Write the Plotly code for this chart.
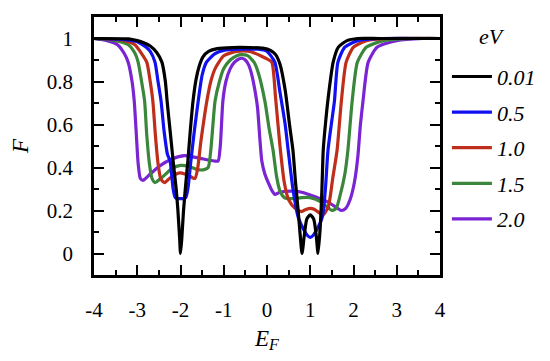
import plotly.graph_objects as go

# ---- data ----
black_x = [-4, -3.2, -3.0, -2.85, -2.7, -2.55, -2.43, -2.35, -2.31, -2.24, -2.17, -2.1, -2.06, -2.02, -2.0,
           -1.97, -1.93, -1.88, -1.83, -1.77, -1.71, -1.64, -1.57, -1.48, -1.35, -1.15, -0.8, -0.4, -0.1,
           0.08, 0.2, 0.3, 0.42, 0.52, 0.6, 0.66, 0.72, 0.77, 0.81, 0.86, 0.92, 1.0, 1.08, 1.14, 1.18, 1.23,
           1.27, 1.3, 1.36, 1.43, 1.53, 1.65, 1.85, 2.1, 2.6, 4]
black_y = [1.0, 0.998, 0.99, 0.98, 0.965, 0.935, 0.89, 0.8, 0.71, 0.57, 0.43, 0.3, 0.2, 0.07, 0.0,
           0.07, 0.2, 0.32, 0.43, 0.58, 0.71, 0.81, 0.87, 0.915, 0.94, 0.953, 0.958, 0.958, 0.955,
           0.945, 0.925, 0.88, 0.76, 0.6, 0.48, 0.33, 0.2, 0.08, 0.0, 0.08, 0.16, 0.18, 0.16, 0.08, 0.0, 0.12,
           0.3, 0.48, 0.62, 0.75, 0.89, 0.96, 0.99, 1.0, 1.0, 1.0]

blue_x = [-4, -3.3, -3.0, -2.8, -2.7, -2.59, -2.52, -2.45, -2.38, -2.3, -2.24, -2.17, -2.12, -2.0,
          -1.88, -1.83, -1.76, -1.68, -1.59, -1.5, -1.4, -1.2, -1.0, -0.6, -0.2, 0.0, 0.18, 0.3, 0.42,
          0.49, 0.6, 0.72, 0.85, 0.93, 1.0, 1.07, 1.15, 1.28, 1.35, 1.41, 1.5, 1.56, 1.64, 1.8, 2.1, 2.6, 4]
blue_y = [1.0, 0.995, 0.985, 0.96, 0.94, 0.89, 0.8, 0.71, 0.57, 0.46, 0.43, 0.3, 0.26, 0.255,
          0.26, 0.3, 0.43, 0.57, 0.71, 0.83, 0.89, 0.93, 0.945, 0.95, 0.95, 0.94, 0.89, 0.75, 0.6,
          0.48, 0.3, 0.17, 0.11, 0.085, 0.075, 0.085, 0.11, 0.17, 0.3, 0.48, 0.62, 0.71, 0.89, 0.96, 0.99, 1.0, 1.0]

red_x = [-4, -3.3, -3.05, -2.9, -2.78, -2.7, -2.64, -2.58, -2.52, -2.46, -2.41, -2.36, -2.25, -2.1, -2.0,
         -1.9, -1.78, -1.7, -1.66, -1.6, -1.53, -1.46, -1.39, -1.3, -1.2, -1.0, -0.7, -0.4, -0.15, 0.0,
         0.11, 0.2, 0.3, 0.4, 0.5, 0.65, 0.8, 0.9, 1.0, 1.1, 1.2, 1.3, 1.42, 1.52, 1.62, 1.72, 1.83, 2.0,
         2.3, 2.8, 4]
red_y = [1.0, 0.99, 0.97, 0.93, 0.89, 0.8, 0.71, 0.55, 0.42, 0.35, 0.335, 0.33, 0.35, 0.37, 0.375,
         0.37, 0.36, 0.35, 0.35, 0.4, 0.52, 0.62, 0.71, 0.8, 0.86, 0.92, 0.94, 0.94, 0.92, 0.905,
         0.89, 0.72, 0.5, 0.33, 0.25, 0.21, 0.195, 0.205, 0.21, 0.205, 0.19, 0.18, 0.22, 0.35, 0.48,
         0.71, 0.89, 0.96, 0.99, 1.0, 1.0]

green_x = [-4, -3.5, -3.2, -3.05, -2.98, -2.9, -2.83, -2.78, -2.72, -2.66, -2.59, -2.45, -2.2, -2.0,
           -1.8, -1.6, -1.45, -1.36, -1.3, -1.25, -1.2, -1.1, -1.0, -0.85, -0.7, -0.58, -0.45, -0.3,
           -0.2, -0.05, 0.05, 0.14, 0.22, 0.3, 0.4, 0.55, 0.8, 1.0, 1.25, 1.4, 1.5, 1.6, 1.69, 1.8,
           1.87, 1.97, 2.09, 2.3, 2.7, 3.3, 4]
green_y = [1.0, 0.99, 0.97, 0.93, 0.89, 0.8, 0.71, 0.55, 0.42, 0.35, 0.33, 0.35, 0.395, 0.41,
           0.405, 0.39, 0.39, 0.4, 0.48, 0.6, 0.71, 0.8, 0.86, 0.9, 0.92, 0.925, 0.92, 0.89,
           0.84, 0.71, 0.58, 0.48, 0.36, 0.29, 0.26, 0.255, 0.26, 0.26, 0.24, 0.215, 0.2, 0.21, 0.27,
           0.37, 0.48, 0.71, 0.89, 0.96, 0.99, 1.0, 1.0]

purple_x = [-4, -3.7, -3.45, -3.3, -3.21, -3.12, -3.07, -3.02, -2.98, -2.93, -2.87, -2.75, -2.5, -2.2,
            -1.9, -1.6, -1.35, -1.2, -1.13, -1.08, -1.02, -0.95, -0.85, -0.75, -0.65, -0.58, -0.5,
            -0.42, -0.35, -0.28, -0.22, -0.16, -0.12, -0.05, 0.05, 0.12, 0.18, 0.3, 0.6, 0.8, 1.1, 1.4,
            1.6, 1.72, 1.82, 1.92, 2.02, 2.1, 2.16, 2.22, 2.34, 2.55, 3.0, 3.6, 4]
purple_y = [1.0, 0.99, 0.97, 0.93, 0.89, 0.8, 0.71, 0.55, 0.42, 0.35, 0.34, 0.36, 0.405, 0.44,
            0.455, 0.445, 0.435, 0.43, 0.43, 0.5, 0.71, 0.8, 0.86, 0.89, 0.905, 0.908, 0.9,
            0.875, 0.83, 0.76, 0.68, 0.52, 0.43, 0.37, 0.32, 0.29, 0.275, 0.285, 0.29, 0.285, 0.265, 0.24,
            0.215, 0.2, 0.21, 0.25, 0.33, 0.45, 0.6, 0.71, 0.89, 0.96, 0.99, 1.0, 1.0]

labels = ["0.01", "0.5", "1.0", "1.5", "2.0"]
colors = ["#000000", "#1010f0", "#bf2e1a", "#3a863a", "#7a24d4"]
series_x = [black_x, blue_x, red_x, green_x, purple_x]
series_y = [black_y, blue_y, red_y, green_y, purple_y]

x_ticks = [-4, -3, -2, -1, 0, 1, 2, 3, 4]
y_ticks = [0, 0.2, 0.4, 0.6, 0.8, 1]
y_tick_text = ["0", "0.2", "0.4", "0.6", "0.8", "1"]

FONT = "Liberation Serif"
OFF = 8  # page body margin of the html page

fig = go.Figure()
# draw purple first so black ends on top; legendrank keeps black first in legend
for i in reversed(range(len(labels))):
    fig.add_trace(go.Scatter(
        x=series_x[i], y=series_y[i], mode="lines", name=labels[i],
        legendgroup=labels[i], legendrank=i + 1,
        line=dict(color=colors[i], width=3.2, shape="spline", smoothing=0.6),
    ))

axis_common = dict(
    showline=True, linecolor="black", linewidth=2.5, mirror="ticks",
    ticks="inside", ticklen=10, tickwidth=2, tickcolor="black",
    showgrid=False, zeroline=False, automargin=False,
    tickfont=dict(family=FONT, size=21, color="black"),
)

fig.update_xaxes(
    range=[-4, 4], tickvals=x_ticks, ticktext=[str(v) for v in x_ticks],
    minor=dict(ticks="inside", ticklen=5, tickwidth=2, dtick=0.5, tickcolor="black", showgrid=False),
    ticklabelstandoff=14,
    title=dict(text="<i>E<sub>F</sub></i>", font=dict(family=FONT, size=23, color="black"), standoff=9),
    **axis_common,
)
fig.update_yaxes(
    range=[-0.1, 1.1], tickvals=y_ticks, ticktext=y_tick_text,
    minor=dict(ticks="inside", ticklen=5, tickwidth=2, dtick=0.1, tick0=0, tickcolor="black", showgrid=False),
    ticklabelstandoff=14,
    title=dict(text="<i>F</i>", font=dict(family=FONT, size=23, color="black"), standoff=12),
    **axis_common,
)

fig.add_annotation(
    text="<i>eV</i>", xref="paper", yref="paper", x=1.15, y=0.925,
    xanchor="center", yanchor="middle", showarrow=False,
    font=dict(family=FONT, size=22, color="black"),
)

fig.update_layout(
    width=550, height=361,
    margin=dict(l=94 - OFF, r=110 + OFF, t=17 - OFF, b=86 + OFF, autoexpand=False),
    plot_bgcolor="white", paper_bgcolor="white",
    legend=dict(
        x=1.02, xanchor="left", y=0.85, yanchor="top",
        traceorder="grouped", tracegroupgap=4,
        font=dict(family=FONT, size=22, color="black", style="italic"),
        itemwidth=40, bgcolor="rgba(0,0,0,0)",
    ),
    showlegend=True,
)

fig.write_html("out.html")
